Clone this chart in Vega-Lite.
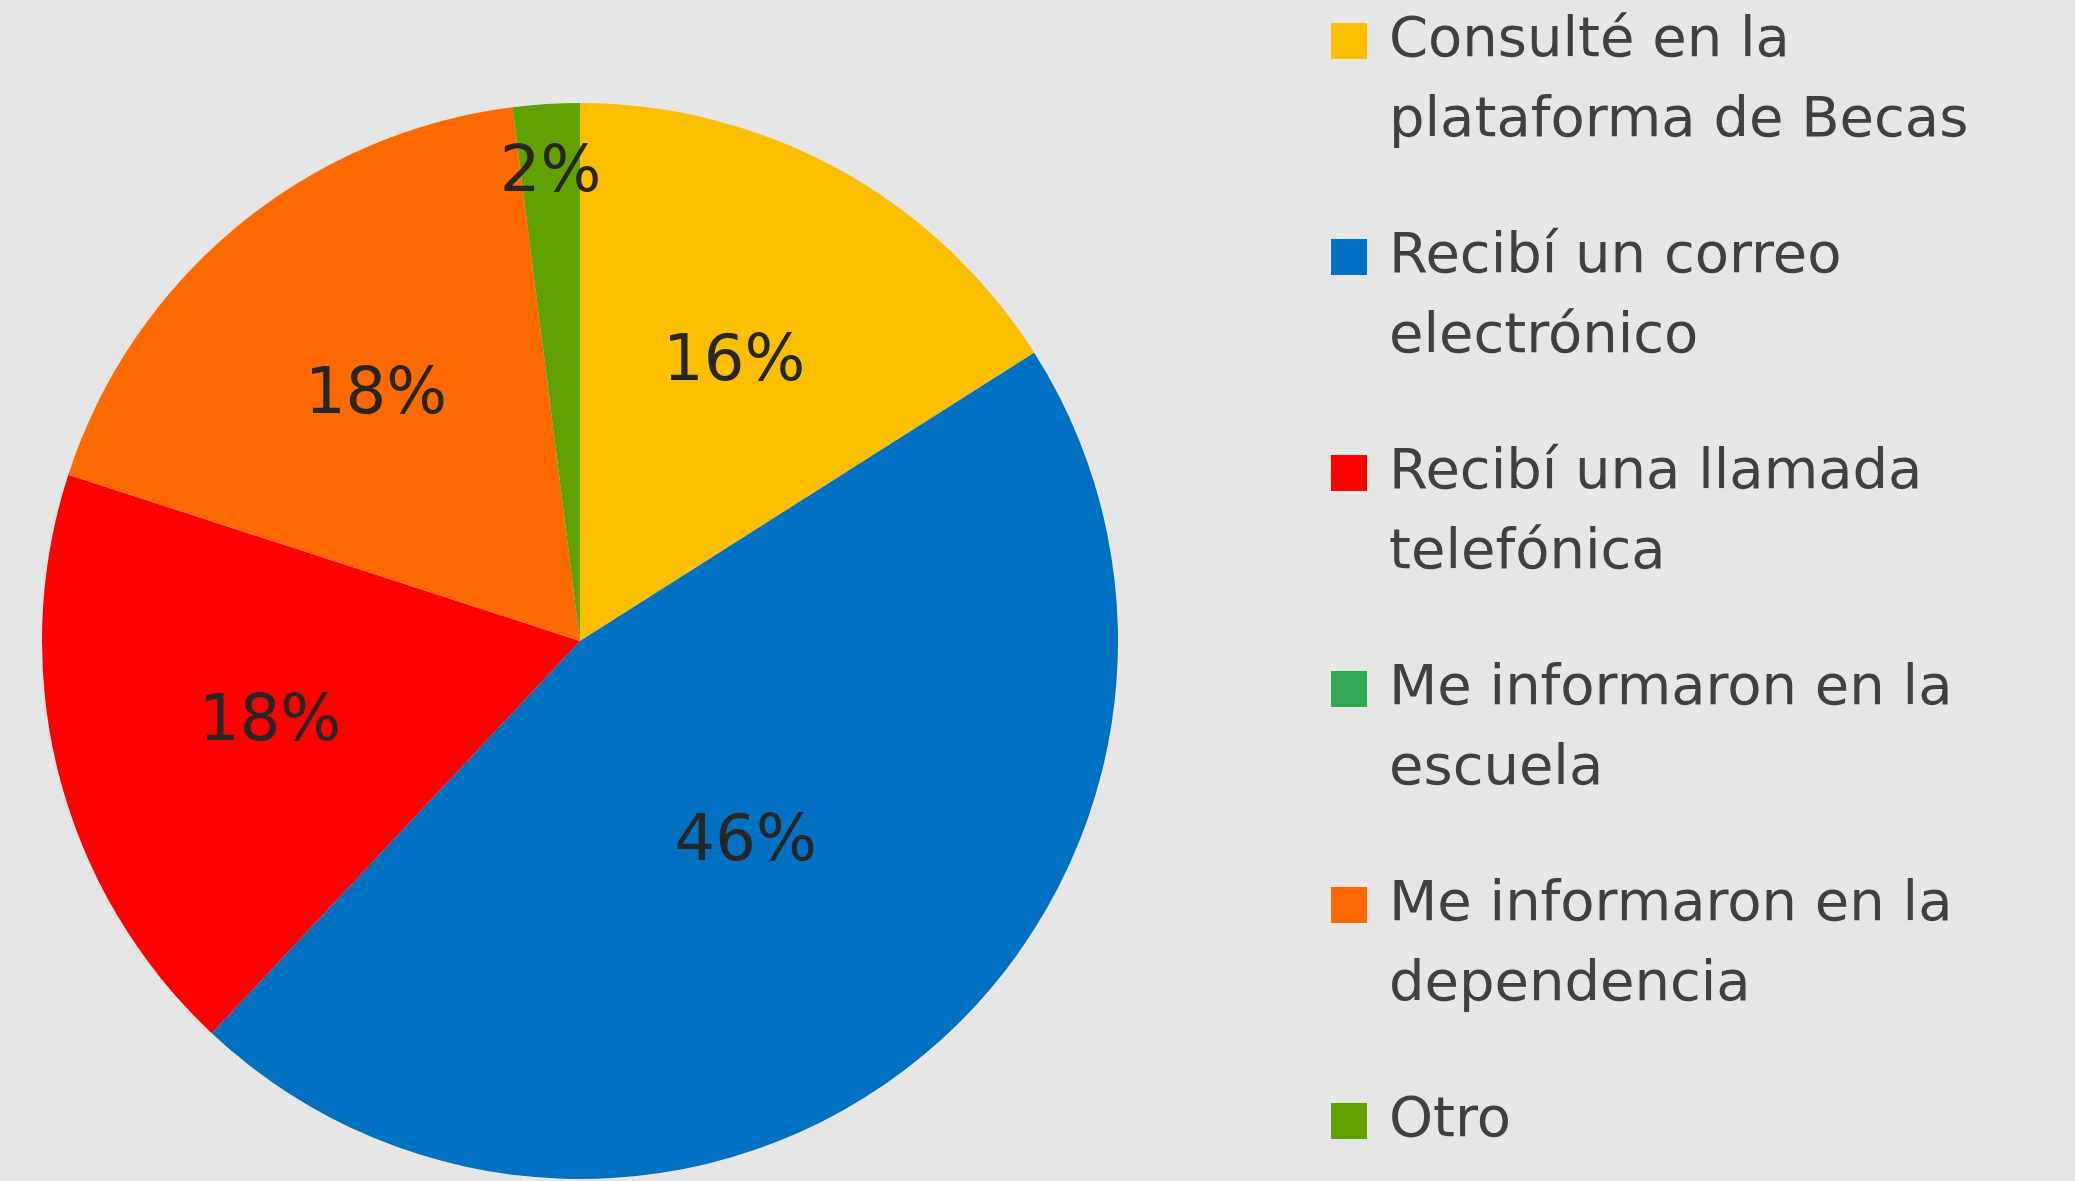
{
  "$schema": "https://vega.github.io/schema/vega-lite/v6.json",
  "width": 1160,
  "height": 1076,
  "padding": {"left": 0, "top": 103, "right": 915, "bottom": 2},
  "autosize": {"type": "none"},
  "background": "#E6E6E6",
  "config": {
    "view": {"stroke": null},
    "style": {"guide-label": {"lineHeight": 80, "dy": -29}}
  },
  "data": {
    "values": [
      {"categoria": "Consulté en la plataforma de Becas", "pct": 0.16, "orden": 1},
      {"categoria": "Recibí un correo electrónico", "pct": 0.46, "orden": 2},
      {"categoria": "Recibí una llamada telefónica", "pct": 0.18, "orden": 3},
      {"categoria": "Me informaron en la escuela", "pct": 0.0, "orden": 4},
      {"categoria": "Me informaron en la dependencia", "pct": 0.18, "orden": 5},
      {"categoria": "Otro", "pct": 0.02, "orden": 6}
    ]
  },
  "encoding": {
    "theta": {"field": "pct", "type": "quantitative", "stack": true},
    "order": {"field": "orden", "type": "quantitative"},
    "color": {
      "field": "categoria",
      "type": "nominal",
      "scale": {
        "domain": ["Consulté en la plataforma de Becas", "Recibí un correo electrónico", "Recibí una llamada telefónica", "Me informaron en la escuela", "Me informaron en la dependencia", "Otro"],
        "range": ["#FBBF00", "#0070C0", "#FF0000", "#33A852", "#FF6A00", "#60A000"]
      },
      "legend": {
        "title": null,
        "orient": "none",
        "legendX": 1321,
        "legendY": -90,
        "padding": 0,
        "symbolType": "square",
        "symbolSize": 1296,
        "symbolStrokeWidth": 0,
        "symbolOpacity": 1,
        "labelFont": "DejaVu Sans",
        "labelFontSize": 56,
        "labelFontWeight": 400,
        "labelColor": "#404040",
        "labelLimit": 1000,
        "labelOffset": 12,
        "labelBaseline": "top",
        "rowPadding": 80,
        "labelExpr": "datum.label == 'Consulté en la plataforma de Becas' ? ['Consulté en la', 'plataforma de Becas'] : datum.label == 'Recibí un correo electrónico' ? ['Recibí un correo', 'electrónico'] : datum.label == 'Recibí una llamada telefónica' ? ['Recibí una llamada', 'telefónica'] : datum.label == 'Me informaron en la escuela' ? ['Me informaron en la', 'escuela'] : datum.label == 'Me informaron en la dependencia' ? ['Me informaron en la', 'dependencia'] : datum.label"
      }
    }
  },
  "layer": [
    {"mark": {"type": "arc", "outerRadius": 538}},
    {
      "mark": {"type": "text", "font": "DejaVu Sans", "fontSize": 64, "fontWeight": 500, "color": "#262626", "radius": {"expr": "datum.pct < 0.05 ? 470 : datum.pct > 0.4 ? 260 : 320"}},
      "encoding": {
        "text": {"field": "pct", "type": "quantitative", "format": ".0%", "condition": {"test": "datum.pct == 0", "value": ""}},
        "color": {"value": "#262626"}
      }
    }
  ]
}
